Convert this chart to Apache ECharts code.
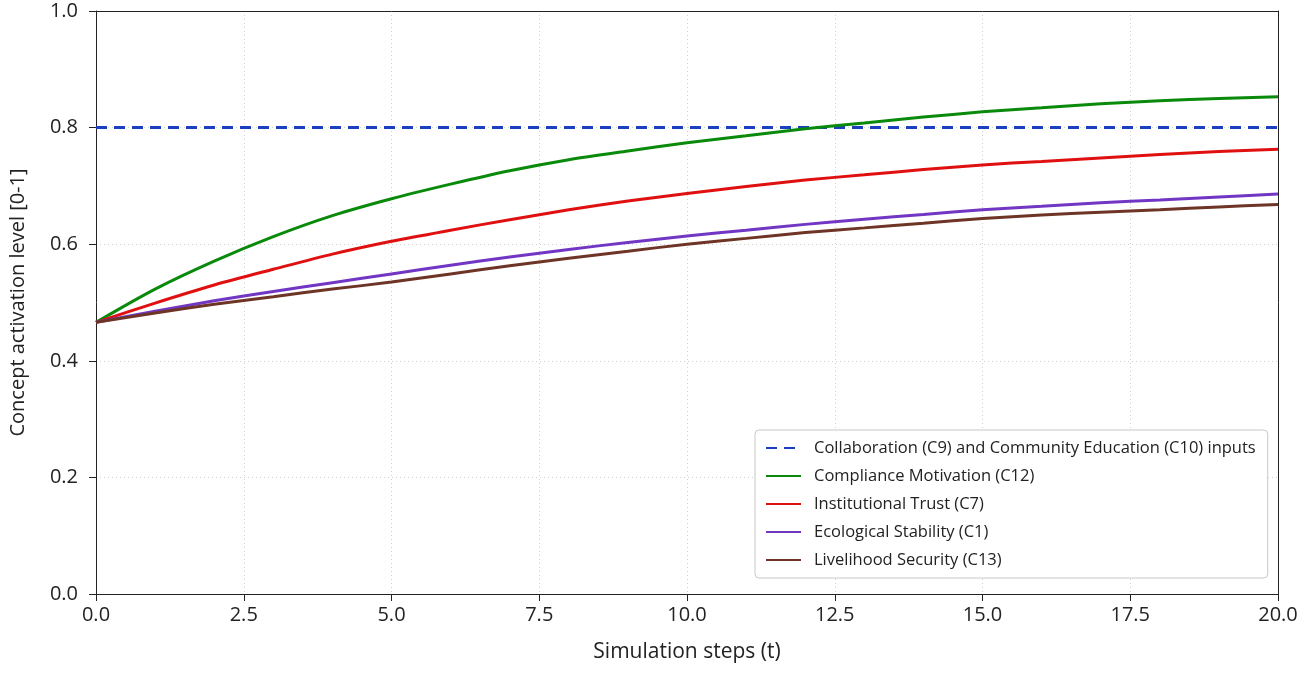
<!DOCTYPE html>
<html>
<head>
<meta charset="utf-8">
<script src="https://cdn.jsdelivr.net/npm/echarts@6/dist/echarts.min.js"></script>
<style>
  html, body { margin: 0; padding: 0; background: #fff; }
  #chart { width: 1308px; height: 691px; }
</style>
</head>
<body>
<div id="chart"></div>
<script>
const steps = [0, 1, 2, 3, 4, 5, 6, 7, 8, 9, 10, 11, 12, 13, 14, 15, 16, 17, 18, 19, 20];
const inputs = [0.8, 0.8, 0.8, 0.8, 0.8, 0.8, 0.8, 0.8, 0.8, 0.8, 0.8, 0.8, 0.8, 0.8, 0.8, 0.8, 0.8, 0.8, 0.8, 0.8, 0.8];
const compliance = [0.466, 0.523, 0.571, 0.613, 0.649, 0.678, 0.703, 0.726, 0.745, 0.760, 0.774, 0.786, 0.798, 0.808, 0.818, 0.827, 0.834, 0.841, 0.846, 0.850, 0.853];
const trust = [0.466, 0.499, 0.530, 0.557, 0.583, 0.605, 0.624, 0.642, 0.659, 0.674, 0.687, 0.699, 0.710, 0.719, 0.728, 0.736, 0.742, 0.748, 0.754, 0.759, 0.763];
const ecological = [0.466, 0.485, 0.503, 0.519, 0.534, 0.549, 0.564, 0.578, 0.591, 0.603, 0.614, 0.624, 0.634, 0.643, 0.651, 0.659, 0.665, 0.671, 0.676, 0.681, 0.686];
const livelihood = [0.466, 0.482, 0.497, 0.510, 0.523, 0.535, 0.549, 0.563, 0.576, 0.588, 0.600, 0.610, 0.620, 0.628, 0.636, 0.644, 0.650, 0.655, 0.659, 0.664, 0.668];

const seriesNames = [
  "Collaboration (C9) and Community Education (C10) inputs",
  "Compliance Motivation (C12)",
  "Institutional Trust (C7)",
  "Ecological Stability (C1)",
  "Livelihood Security (C13)",
];
const seriesValues = [inputs, compliance, trust, ecological, livelihood];
const colors = ["#1a3fbf", "#0a8a0a", "#e01010", "#7236c4", "#6e3526"];

const font = "'Open Sans', 'Noto Sans', sans-serif";

const chart = echarts.init(document.getElementById("chart"));

// top and right frame lines, like the matplotlib box
const frameAxis = {
  type: "value",
  min: 0,
  axisLine: { show: true, onZero: false, lineStyle: { color: "#222", width: 1 } },
  axisTick: { show: false },
  axisLabel: { show: false },
  splitLine: { show: false },
};

const option = {
  animation: false,
  backgroundColor: "#fff",
  textStyle: { fontFamily: font },
  grid: {
    left: 96,
    right: 30,
    top: 11,
    bottom: 97,
    outerBoundsMode: "none",
    containLabel: false,
  },
  legend: {
    orient: "vertical",
    left: 755,
    top: 430,
    padding: [8, 12, 8, 10],
    itemGap: 8,
    itemWidth: 35,
    itemHeight: 14,
    backgroundColor: "#fff",
    borderColor: "#c8c8c8",
    borderWidth: 1,
    borderRadius: 4,
    itemStyle: { color: "rgba(0,0,0,0)", borderWidth: 0, opacity: 0 },
    textStyle: { fontFamily: font, fontSize: 16.5, lineHeight: 20, color: "#222", padding: [0, 0, 0, 8] },
    data: seriesNames,
  },
  xAxis: [
    {
      type: "value",
      min: 0,
      max: 20,
      interval: 2.5,
      name: "Simulation steps (t)",
      nameLocation: "middle",
      nameGap: 48,
      nameTextStyle: { fontSize: 21, color: "#222" },
      axisLine: { lineStyle: { color: "#222", width: 1 } },
      axisTick: { length: 7, lineStyle: { color: "#222" } },
      axisLabel: {
        fontSize: 20,
        color: "#222",
        margin: 11,
        formatter: (v) => v.toFixed(1),
      },
      splitLine: { show: true, showMinLine: false, showMaxLine: false, lineStyle: { color: "#d0d0d0", type: [1, 3] } },
    },
    { ...frameAxis, position: "top", max: 20 },
  ],
  yAxis: [
    {
      type: "value",
      min: 0,
      max: 1,
      interval: 0.2,
      name: "Concept activation level [0-1]",
      nameLocation: "middle",
      nameGap: 68,
      nameRotate: 90,
      nameTextStyle: { fontSize: 20, color: "#222" },
      axisLine: { show: true, lineStyle: { color: "#222", width: 1 } },
      axisTick: { show: true, length: 7, lineStyle: { color: "#222" } },
      axisLabel: {
        fontSize: 20,
        color: "#222",
        margin: 18,
        formatter: (v) => v.toFixed(1),
      },
      splitLine: { show: true, showMinLine: false, showMaxLine: false, lineStyle: { color: "#d0d0d0", type: [1, 3] } },
    },
    { ...frameAxis, position: "right", max: 1 },
  ],
  series: seriesValues.map((vals, i) => ({
    name: seriesNames[i],
    type: "line",
    symbol: "none",
    smooth: i === 0 ? false : 0.3,
    data: steps.map((t, j) => [t, vals[j]]),
    lineStyle: {
      color: colors[i],
      width: 3,
      type: i === 0 ? [11, 7] : "solid",
    },
    itemStyle: { color: colors[i] },
    z: i === 0 ? 1 : 2 + i,
  })),
};

chart.setOption(option);
</script>
</body>
</html>
